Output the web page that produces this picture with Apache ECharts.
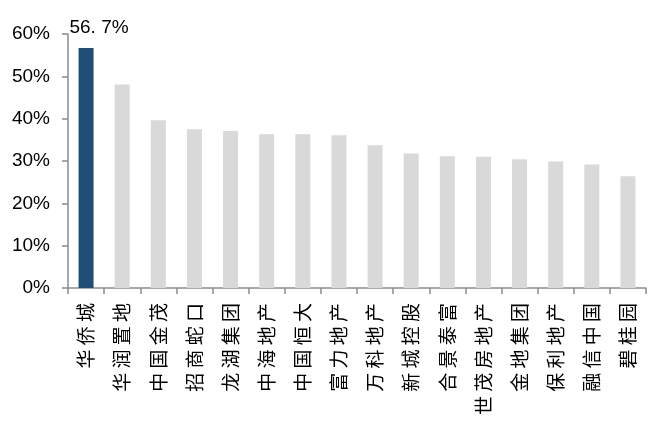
<!DOCTYPE html>
<html>
<head>
<meta charset="utf-8">
<script src="https://cdn.jsdelivr.net/npm/echarts@6/dist/echarts.min.js"></script>
<style>
  html, body { margin: 0; padding: 0; background: #fff; }
  #chart { width: 652px; height: 423px; }
</style>
</head>
<body>
<div id="chart"></div>
<script>
// 房企名称
const companies = ['华侨城', '华润置地', '中国金茂', '招商蛇口', '龙湖集团', '中海地产', '中国恒大', '富力地产',
  '万科地产', '新城控股', '合景泰富', '世茂房地产', '金地集团', '保利地产', '融信中国', '碧桂园']
// 占比（%）
const ratios = [56.7, 48.1, 39.6, 37.5, 37.1, 36.3, 36.3, 36.1, 33.7, 31.8, 31.1, 31.0, 30.4, 29.9, 29.2, 26.4]
const yTicks = [0, 10, 20, 30, 40, 50, 60]

const chart = echarts.init(document.getElementById('chart'))

const axisColor = '#8c8c8c'

const option = {
  animation: false,
  grid: { left: 68, right: 6, top: 34, bottom: 135 },
  xAxis: {
    type: 'category',
    data: companies,
    axisLine: { lineStyle: { color: axisColor, width: 1.5 } },
    axisTick: { show: true, length: 6, lineStyle: { color: axisColor, width: 1.5 } },
    axisLabel: {
      rotate: 90,
      margin: 15,
      color: '#000',
      fontSize: 19,
      fontFamily: 'Noto Sans CJK SC',
      formatter: (v) => v.split('').join(' ')
    }
  },
  yAxis: {
    type: 'value',
    min: yTicks[0],
    max: yTicks[yTicks.length - 1],
    interval: 10,
    splitLine: { show: false },
    axisLine: { show: true, lineStyle: { color: axisColor, width: 1.5 } },
    axisTick: { show: true, length: 6, lineStyle: { color: axisColor, width: 1.5 } },
    axisLabel: {
      margin: 18,
      color: '#000',
      fontSize: 19,
      fontFamily: 'Liberation Sans',
      formatter: (v) => v + '%'
    }
  },
  series: [
    {
      type: 'bar',
      barWidth: 15,
      data: ratios.map((v, i) => {
        if (i === 0) {
          // 第一根柱子高亮并标注数值
          return {
            value: v,
            itemStyle: { color: '#1f4e79' },
            label: {
              show: true,
              position: 'top',
              distance: 11,
              offset: [13, 0],
              color: '#000',
              fontSize: 19,
              fontFamily: 'Liberation Sans',
              formatter: (p) => p.value.toFixed(1).replace('.', '. ') + '%'
            }
          }
        }
        return { value: v, itemStyle: { color: '#d9d9d9' } }
      })
    }
  ]
}

chart.setOption(option)
</script>
</body>
</html>
